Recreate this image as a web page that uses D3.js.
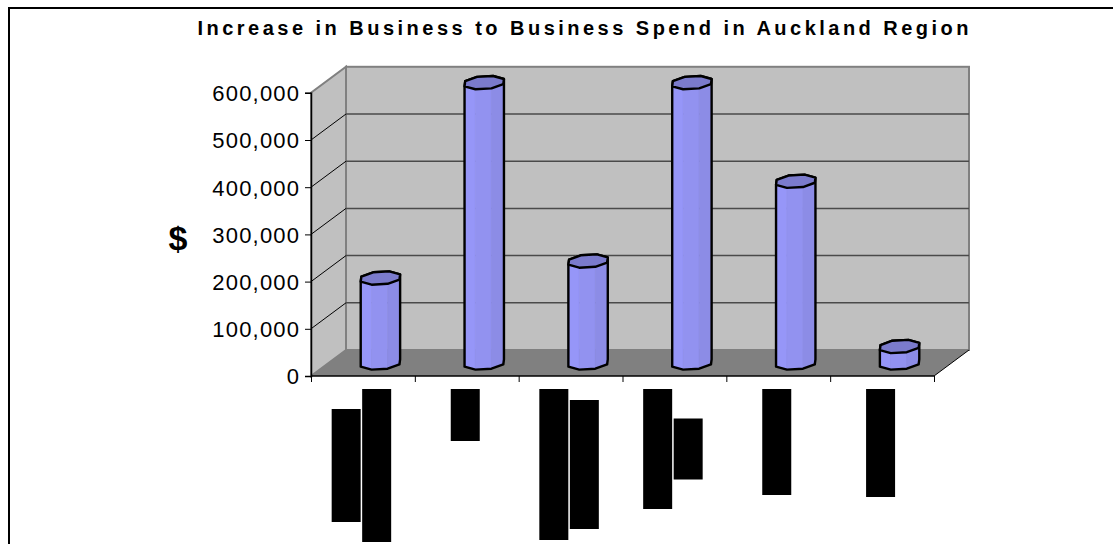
<!DOCTYPE html>
<html><head><meta charset="utf-8">
<script src="https://cdn.jsdelivr.net/npm/d3@7"></script>
<style>html,body{margin:0;padding:0;background:#fff;}svg{display:block;font-family:Arial,"Liberation Sans",sans-serif;}</style>
</head><body>
<svg id="chart" width="1113" height="544"></svg>
<script>
// ---- data ----
const title = "Increase in Business to Business Spend in Auckland Region";
const yAxisTitle = "$";
const categories = ["C1", "C2", "C3", "C4", "C5", "C6"]; // category names are redacted in the source
const values = [180000, 594000, 216000, 594000, 385000, 35000];
const yTicks = [0, 100000, 200000, 300000, 400000, 500000, 600000];
// redacted (blacked-out) category label lines, lengths of each black bar
const redactedLabelLines = [[113, 153], [52], [151, 129], [120, 61], [106], [108]];

// ---- layout ----
const svg = d3.select("#chart");
const plot = {x0: 311, x1: 934, y0: 376, y1: 92.8};
const depth = {dx: 35, dy: -26};

svg.append("rect").attr("x", 9).attr("y", 8).attr("width", 1120).attr("height", 560)
  .attr("fill", "#fff").attr("stroke", "#000").attr("stroke-width", 2);

const x = d3.scaleBand().domain(categories).range([plot.x0, plot.x1]).padding(0);
const y = d3.scaleLinear().domain([0, 600000]).range([plot.y0, plot.y1]);
const yMax = 600000;

// side wall
svg.append("path").attr("d", `M${plot.x0},${plot.y0} L${plot.x0},${y(yMax)} L${plot.x0+depth.dx},${y(yMax)+depth.dy} L${plot.x0+depth.dx},${plot.y0+depth.dy} Z`)
  .attr("fill", "#c0c0c0").attr("stroke", "#808080").attr("stroke-width", 2);
// back wall
svg.append("rect").attr("x", plot.x0+depth.dx).attr("y", y(yMax)+depth.dy)
  .attr("width", plot.x1-plot.x0).attr("height", plot.y0-y(yMax))
  .attr("fill", "#c0c0c0").attr("stroke", "#808080").attr("stroke-width", 2);
// floor
svg.append("path").attr("d", `M${plot.x0},${plot.y0} L${plot.x1},${plot.y0} L${plot.x1+depth.dx},${plot.y0+depth.dy} L${plot.x0+depth.dx},${plot.y0+depth.dy} Z`)
  .attr("fill", "#808080");
svg.append("line").attr("x1", plot.x1).attr("y1", plot.y0).attr("x2", plot.x1+depth.dx).attr("y2", plot.y0+depth.dy)
  .attr("stroke", "#000").attr("stroke-width", 1);

// gridlines
const grid = yTicks.filter(t => t > 0 && t < yMax);
svg.append("g").selectAll("line").data(grid).join("line")
  .attr("x1", plot.x0+depth.dx).attr("x2", plot.x1+depth.dx)
  .attr("y1", d => y(d)+depth.dy).attr("y2", d => y(d)+depth.dy)
  .attr("stroke", "#4a4a4a").attr("stroke-width", 1.5);
svg.append("g").selectAll("line").data(grid).join("line")
  .attr("x1", plot.x0).attr("x2", plot.x0+depth.dx)
  .attr("y1", d => y(d)).attr("y2", d => y(d)+depth.dy)
  .attr("stroke", "#000").attr("stroke-width", 1);

// axes
const yAxis = d3.axisLeft(y).tickValues(yTicks).tickSize(6).tickPadding(6).tickFormat(d3.format(","));
const gy = svg.append("g").attr("transform", `translate(${plot.x0},0)`).call(yAxis);
gy.select(".domain").attr("stroke", "#000").attr("stroke-width", 1.5);
gy.selectAll(".tick line").attr("stroke", "#000");
gy.selectAll(".tick text").attr("font-size", 22).attr("fill", "#000")
  .attr("font-family", "Arial, 'Liberation Sans', sans-serif")
  .attr("letter-spacing", "1.2px").attr("dx", "1.2px").attr("dy", "0.36em");

const xAxis = d3.axisBottom(d3.scaleLinear().domain([0, categories.length]).range([plot.x0, plot.x1]))
  .tickValues(d3.range(categories.length+1)).tickSize(6).tickFormat("");
const gx = svg.append("g").attr("transform", `translate(0,${plot.y0})`).call(xAxis);
gx.select(".domain").attr("stroke", "#000").attr("stroke-width", 1.5).attr("d", `M${plot.x0},0H${plot.x1}`);
gx.selectAll(".tick line").attr("stroke", "#000");

// bars: octagonal prisms at mid depth
const rx = 20.5, sxk = 4.5, sy = 6.8, rot = 10 * Math.PI/180;
const octa = d3.range(8).map(k => {
  const a = rot + Math.PI/8 + k*Math.PI/4;
  return [Math.cos(a), Math.sin(a)];
});
const faceColors = ["#9999ff", "#9696f8", "#9292f0", "#8c8ce6", "#8686dc", "#8080d2", "#7c7cca", "#7878c4"];
const bars = svg.append("g");
categories.forEach((c, i) => {
  const cx = x(c) + x.bandwidth()/2 + depth.dx/2;
  const cy0 = plot.y0 + depth.dy/2;
  const h = y(0) - y(values[i]);
  const proj = (p, yy) => [cx + rx*p[0] + sxk*p[1], yy - sy*p[1]];
  const top = octa.map(p => proj(p, cy0 - h));
  const bot = octa.map(p => proj(p, cy0));
  const g = bars.append("g");
  const faces = [];
  for (let k = 0; k < 8; k++) {
    const k2 = (k+1) % 8;
    const mid = (octa[k][1] + octa[k2][1]) / 2;
    if (mid < 0.05) {
      faces.push({pts: [top[k], top[k2], bot[k2], bot[k]], xm: (top[k][0]+top[k2][0])/2});
    }
  }
  faces.sort((a, b) => a.xm - b.xm);
  faces.forEach((f, j) => {
    const col = faceColors[Math.min(j, faceColors.length-1)];
    g.append("path").attr("d", "M" + f.pts.join("L") + "Z").attr("fill", col).attr("stroke", col).attr("stroke-width", 0.6);
  });
  const hull = d3.polygonHull(top.concat(bot));
  g.append("path").attr("d", "M" + hull.join("L") + "Z").attr("fill", "none")
    .attr("stroke", "#000").attr("stroke-width", 2.4).attr("stroke-linejoin", "round");
  g.append("path").attr("d", "M" + top.join("L") + "Z").attr("fill", "#7b7bcc")
    .attr("stroke", "#000").attr("stroke-width", 2.4).attr("stroke-linejoin", "round");
});

// redacted category labels
const lab = svg.append("g");
categories.forEach((c, i) => {
  const lines = redactedLabelLines[i];
  const pitch = 30.5, lw = 29;
  const gcx = x(c) + x.bandwidth()/2 - 1.5;
  const maxL = d3.max(lines);
  const gcy = 389 + maxL/2;
  const start = gcx - (lines.length*pitch - (pitch-lw))/2;
  lines.forEach((L, j) => {
    lab.append("rect").attr("x", start + j*pitch).attr("y", gcy - L/2)
      .attr("width", lw).attr("height", L).attr("fill", "#000");
  });
});

// titles
svg.append("text").attr("x", 583).attr("y", 35).attr("text-anchor", "middle")
  .attr("font-size", 20).attr("font-weight", "bold").attr("fill", "#000")
  .attr("textLength", 771).attr("lengthAdjust", "spacing").text(title);
svg.append("text").attr("x", 178).attr("y", 250).attr("text-anchor", "middle")
  .attr("font-size", 34).attr("font-weight", "bold").attr("fill", "#000").text(yAxisTitle);
</script>
</body></html>
